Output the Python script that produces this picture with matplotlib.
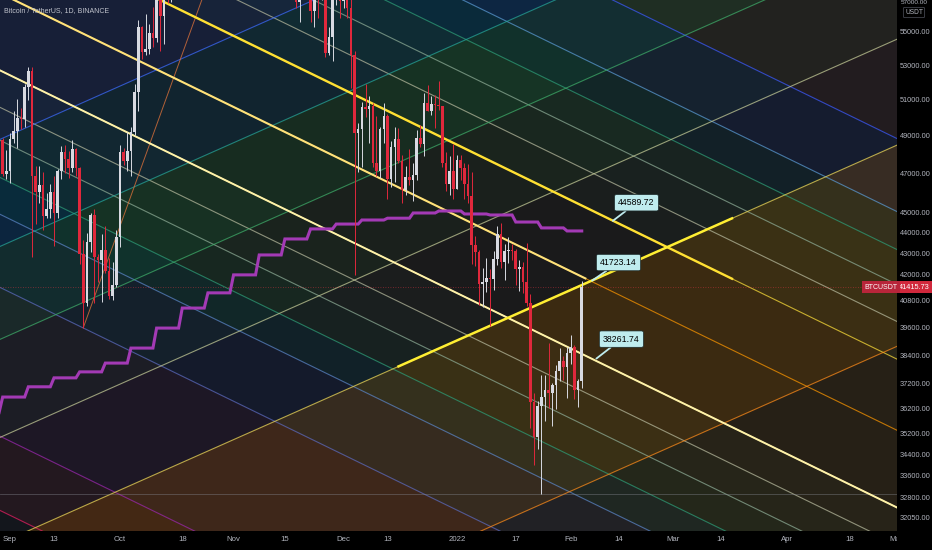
import numpy as np
import pandas as pd
import matplotlib
matplotlib.use("Agg")
import matplotlib.pyplot as plt
import matplotlib.dates as mdates
from matplotlib.patches import Rectangle

# ---------------- data ----------------
dates = pd.date_range("2021-08-28", "2022-02-04", freq="D")

opens = ([49050, 48930, 48800, 46990] +
         [47110, 48830, 49270, 49960, 49920, 51760, 52660, 46860, 46050, 46400, 44850, 45170, 46030, 44960, 47110,
          48140, 47760, 47300, 48310, 47260, 42970, 40690, 43560, 44880, 42810, 42700, 43180, 42170, 41030, 41520] +
         [43790, 48140, 47630, 48200, 49220, 51470, 55320, 53790, 53950, 54950, 54660, 57470, 56000, 57370, 57350,
          61670, 60880, 61530, 62010, 64280, 66000, 62210, 60690, 61290, 60850, 63080, 60330, 58460, 60590, 62250, 61860] +
         [61300, 61000, 63230, 62930, 61390, 60940, 61470, 63270, 67530, 66940, 64880, 64800, 64130, 64380, 65520,
          63600, 60050, 60360, 56890, 58050, 59700, 58680, 56280, 57540, 57140, 58960, 53720, 54720, 57270, 57800] +
         [56950, 57180, 56480, 53600, 49150, 49400, 50590, 50470, 50680, 47540, 47140, 49380, 50100, 46720, 48380,
          48860, 47630, 46130, 46830, 46680, 46910, 48900, 48590, 50820, 50400, 50780, 50700, 50640, 47540, 46460, 47120] +
         [46220, 47720, 47290, 46440, 45830, 43430, 43080, 41560, 41680, 41860, 41820, 42740, 43920, 42590, 43100,
          43180, 43110, 42250, 42380, 41660, 40680, 36450, 35070, 36280, 36650, 36960, 36810, 37160, 37720, 38170, 37920] +
         [38480, 38740, 36950, 37330])

highs = ([49300, 49630, 48900, 48240] +
         [49150, 50400, 51050, 50560, 51900, 52920, 52920, 47400, 47400, 47050, 45990, 46460, 46880, 47250, 48480,
          48500, 48170, 48800, 48370, 47330, 43640, 44000, 44980, 45200, 42970, 43950, 44350, 42790, 42600, 44130] +
         [48500, 48350, 49230, 49500, 51890, 55750, 55340, 56100, 55490, 56560, 57840, 57680, 57700, 58530, 62930,
          62350, 61720, 62700, 64490, 67000, 66640, 63730, 61750, 61500, 63710, 63290, 61500, 62500, 62960, 62330, 62410] +
         [62440, 64270, 63500, 63120, 62600, 61560, 63290, 67790, 68530, 69000, 65600, 65460, 65000, 65550, 66400,
          63620, 60820, 60980, 58370, 59850, 60050, 59260, 57850, 57800, 59400, 59200, 55280, 57440, 58870, 59180] +
         [59040, 57380, 57600, 53860, 49700, 50880, 51940, 51200, 50800, 50100, 49480, 50800, 50220, 48700, 49500,
          49440, 47990, 47380, 48300, 47540, 49330, 49580, 51380, 51860, 51200, 51280, 52090, 50680, 48140, 47900, 48550] +
         [47950, 47990, 47570, 47510, 47070, 43820, 43150, 42300, 42790, 42250, 43100, 44350, 44460, 43450, 43800,
          43480, 43200, 42690, 42580, 43500, 41100, 36840, 36500, 37550, 37550, 38920, 37230, 38000, 38720, 38360, 38750] +
         [39270, 38860, 37390, 41723.14])

lows = ([48370, 47760, 46870, 46700] +
        [46510, 48620, 48350, 49400, 49500, 50970, 42840, 44410, 45500, 44130, 44740, 44740, 43370, 44750, 46720,
         47040, 46750, 47050, 46850, 42500, 39600, 40570, 43090, 40680, 41650, 40750, 42100, 40890, 40830, 41410] +
        [43290, 47440, 47120, 46890, 49060, 50380, 53360, 53600, 53660, 54100, 54420, 53880, 54250, 56820, 56850,
         60150, 58960, 59850, 61320, 63480, 62000, 60000, 59700, 59510, 60650, 59820, 58000, 57820, 60170, 60720, 59700] +
        [59400, 60620, 60380, 60680, 60720, 60000, 61380, 63100, 66380, 62820, 64100, 62330, 63400, 63580, 63380,
         58580, 58370, 56480, 55600, 57400, 58500, 55630, 55300, 55840, 57020, 53500, 53610, 53250, 56690, 55880] +
        [56460, 55840, 51680, 42000, 47100, 47320, 50040, 48600, 47330, 46850, 46750, 48640, 45670, 46290, 46550,
         47530, 45460, 45900, 46400, 45560, 46640, 48420, 47920, 50440, 50150, 49420, 50450, 47320, 46100, 45900, 45680] +
        [46210, 46650, 45700, 45500, 42500, 42430, 40610, 40500, 41200, 39650, 41270, 42450, 42310, 41730, 42570,
         42690, 41540, 41250, 41140, 40550, 35440, 34010, 34600, 32920, 35700, 36230, 35510, 36160, 37300, 37350, 36630] +
        [38020, 36590, 36250, 37050])

closes = ([48930, 48800, 46990, 47110] +
          [48830, 49270, 49960, 49920, 51760, 52660, 46860, 46050, 46400, 44850, 45170, 46030, 44960, 47110, 48140,
           47760, 47300, 48310, 47260, 42970, 40690, 43560, 44880, 42810, 42700, 43180, 42170, 41030, 41520, 43790] +
          [48140, 47630, 48200, 49220, 51470, 55320, 53790, 53950, 54950, 54660, 57470, 56000, 57370, 57350, 61670,
           60880, 61530, 62010, 64280, 66000, 62210, 60690, 61290, 60850, 63080, 60330, 58460, 60590, 62250, 61860, 61300] +
          [61000, 63230, 62930, 61390, 60940, 61470, 63270, 67530, 66940, 64880, 64800, 64130, 64380, 65520, 63600,
           60050, 60360, 56890, 58050, 59700, 58680, 56280, 57540, 57140, 58960, 53720, 54720, 57270, 57800, 56950] +
          [57180, 56480, 53600, 49150, 49400, 50590, 50470, 50680, 47540, 47140, 49380, 50100, 46720, 48380, 48860,
           47630, 46130, 46830, 46680, 46910, 48900, 48590, 50820, 50400, 50780, 50700, 50640, 47540, 46460, 47120, 46220] +
          [47720, 47290, 46440, 45830, 43430, 43080, 41560, 41680, 41860, 41820, 42740, 43920, 42590, 43100, 43180,
           43110, 42250, 42380, 41660, 40680, 36450, 35070, 36280, 36650, 36960, 36810, 37160, 37720, 38170, 37920, 38480] +
          [38740, 36950, 37330, 41415.73])

# weekly stepped indicator (purple)
week_starts = pd.date_range("2021-08-23", "2022-01-31", freq="W-MON")
weekly_values = [36020, 36660, 37080, 37450, 37700, 38070, 38710, 39580, 40470, 41160, 41990, 42930,
                 43700, 44190, 44430, 44630, 44720, 44980, 45080, 44930, 44880, 44530, 44240, 44090]

# descending channel: two anchors of its centre line, level prices at reference date
ref_date = pd.Timestamp("2022-02-03 12:00")
desc_anchor_dates = [pd.Timestamp("2021-10-14 16:00"), pd.Timestamp("2022-02-03 12:00")]
desc_anchor_prices = [52300, 41890]
desc_levels = [74330, 68460, 58010, 53490, 51280, 49330, 47340, 45400, 41950,
               38500, 36950, 35620, 34180, 32810, 30250, 25640, 23610]
desc_line_colors = ["#f23645", "#9c27b0", "#3d5afe", "#5b9bd5", "#2e9e78", "#8fae98", "#b9bca0", "#ffe23b",
                    "#ff9800", "#fff0a0", "#b9bca0", "#8fae98", "#2e9e78", "#5b86c8", "#5c6bc0", "#9c27b0", "#e91e63"]
desc_fill_colors = ["#f23645", "#c0603a", "#2962ff", "#00acc1", "#4caf50", "#5fae45", "#8fb034", "#ff9800",
                    "#ff9800", "#b8c034", "#8bc34a", "#4caf50", "#00acc1", "#2962ff", "#9c27b0", "#f23645"]
desc_fill_alphas = [0.06, 0.09, 0.09, 0.07, 0.09, 0.08, 0.06, 0.03,
                    0.03, 0.05, 0.06, 0.08, 0.08, 0.07, 0.07, 0.08]

# ascending channel
asc_anchor_dates = [pd.Timestamp("2021-11-19 02:00"), pd.Timestamp("2022-02-03 12:00")]
asc_anchor_prices = [28890, 33170]
asc_levels = [64980, 57690, 52030, 46660, 41480, 33170]
asc_line_colors = ["#3d6bff", "#26a69a", "#3fae6a", "#c8cf9a", "#f0dc5a", "#ff8c1a"]
asc_fill_colors = ["#2962ff", "#0288d1", "#2aa35a", "#4f8a5a", "#6d6a70", "#ff9800", "#b07820"]
asc_fill_alphas = [0.15, 0.14, 0.17, 0.10, 0.07, 0.17, 0.12]

# steep trend line
steep_dates = [pd.Timestamp("2021-09-21"), pd.Timestamp("2021-10-17 10:00")]
steep_prices = [39600, 53320]

# price notes
note_dates = [pd.Timestamp("2022-02-12 12:00"), pd.Timestamp("2022-02-06 20:00"), pd.Timestamp("2022-02-08")]
note_prices = [44589.72, 41723.14, 38261.74]

last_price = 41415.73
hline_price = 32917

ytick_prices = [55000, 53000, 51000, 49000, 47000, 45000, 44000, 43000, 42000, 40800, 39600,
                38400, 37200, 36200, 35200, 34400, 33600, 32800, 32050]
xtick_dates = ["2021-09-01", "2021-09-13", "2021-10-01", "2021-10-18", "2021-11-01", "2021-11-15",
               "2021-12-01", "2021-12-13", "2022-01-01", "2022-01-17", "2022-02-01", "2022-02-14",
               "2022-03-01", "2022-03-14", "2022-04-01", "2022-04-18", "2022-05-01"]
xtick_labels = ["Sep", "13", "Oct", "18", "Nov", "15", "Dec", "13", "2022", "17", "Feb", "14",
                "Mar", "14", "Apr", "18", "May"]

UI_FONT = "Liberation Sans"

# ---------------- figure ----------------
W, H = 932, 550
fig = plt.figure(figsize=(W / 100, H / 100), dpi=100, facecolor="#000000")
ax = fig.add_axes([0, 19 / H, 897 / W, 531 / H])
ax.set_facecolor("#0d1016")
ax.set_yscale("log")

x_left = mdates.date2num(pd.Timestamp("2021-08-29 06:30"))
x_right = mdates.date2num(pd.Timestamp("2022-05-01 00:30"))
y_top, y_bot = 56990, 31590
ax.set_xlim(x_left, x_right)
ax.set_ylim(y_bot, y_top)

xref = mdates.date2num(ref_date)


def rate(adates, aprices):
    d = mdates.date2num(adates[1]) - mdates.date2num(adates[0])
    return np.log(aprices[1] / aprices[0]) / d


desc_rate = rate(desc_anchor_dates, desc_anchor_prices)
asc_rate = rate(asc_anchor_dates, asc_anchor_prices)
xs = np.array([x_left - 5, x_right + 5])


def level_line(level, r, xv):
    return level * np.exp(r * (np.asarray(xv) - xref))


# fills
for fam_levels, fam_rate, fam_fill, fam_alpha in [
        (desc_levels, desc_rate, desc_fill_colors, desc_fill_alphas),
        (asc_levels, asc_rate, asc_fill_colors, asc_fill_alphas)]:
    bounds = list(fam_levels)
    if len(fam_fill) == len(bounds) + 1:
        bounds = [None] + bounds + [None]
    for i, (col, a) in enumerate(zip(fam_fill, fam_alpha)):
        y1 = np.full(2, 1e7) if bounds[i] is None else level_line(bounds[i], fam_rate, xs)
        y2 = np.full(2, 1e3) if bounds[i + 1] is None else level_line(bounds[i + 1], fam_rate, xs)
        ax.fill_between(xs, y1, y2, color=col, alpha=a, lw=0, zorder=0.5)

# lines
for lv, col in zip(desc_levels, desc_line_colors):
    ax.plot(xs, level_line(lv, desc_rate, xs), color=col, lw=0.8, alpha=0.72, zorder=1)
for lv, col in zip(asc_levels, asc_line_colors):
    ax.plot(xs, level_line(lv, asc_rate, xs), color=col, lw=0.8, alpha=0.72, zorder=1)

# thicker highlighted segments
sx = np.array([mdates.date2num(pd.Timestamp("2021-10-10")), mdates.date2num(pd.Timestamp("2022-03-17"))])
ax.plot(sx, level_line(desc_levels[7], desc_rate, sx), color="#ffe033", lw=1.7, zorder=1.2)
sx = np.array([x_left - 5, mdates.date2num(pd.Timestamp("2022-02-05"))])
ax.plot(sx, level_line(desc_levels[8], desc_rate, sx), color="#ffe27a", lw=1.5, zorder=1.2)
ax.plot(xs, level_line(desc_levels[9], desc_rate, xs), color="#fff2a8", lw=1.4, zorder=1.2)
sx = np.array([mdates.date2num(pd.Timestamp("2021-12-16")), mdates.date2num(pd.Timestamp("2022-03-17"))])
ax.plot(sx, level_line(asc_levels[4], asc_rate, sx), color="#ffee33", lw=1.8, zorder=1.2)

# steep line
st_rate = rate(steep_dates, steep_prices)
sx0 = mdates.date2num(steep_dates[0])
sxs = np.array([sx0, sx0 + 40])
ax.plot(sxs, steep_prices[0] * np.exp(st_rate * (sxs - sx0)), color="#d9703a", lw=0.7, alpha=0.8, zorder=1)

# horizontal lines
ax.axhline(hline_price, color="#8a8d96", lw=0.6, alpha=0.45, zorder=1)
ax.axhline(last_price, color="#f23645", lw=0.6, ls=(0, (1, 2)), alpha=0.55, zorder=1)

# purple weekly stepped line
xd = mdates.date2num(dates)
wk = np.searchsorted(mdates.date2num(week_starts), xd, side="right") - 1
purple = np.array(weekly_values)[wk]
ax.plot(xd, purple, color="#a33ab5", lw=2.2, zorder=3, solid_joinstyle="miter")

# candles
o = np.array(opens, float); h = np.array(highs, float); l = np.array(lows, float); c = np.array(closes, float)
h = np.maximum(h, np.maximum(o, c)); l = np.minimum(l, np.minimum(o, c))
upc, dnc = "#d8dae2", "#e0283c"
cols = np.where(c >= o, upc, dnc)
ax.vlines(xd, l, h, colors=cols, lw=0.7, zorder=4)
bh = np.maximum(np.abs(c - o), o * 0.0009)
ax.bar(xd, bh, bottom=np.minimum(o, c), width=0.72, color=cols, lw=0, zorder=4.5)

# price notes
offsets = [(17, 13), (19, 13), (18, 14)]
for nd, npv, off in zip(note_dates, note_prices, offsets):
    ax.annotate(f"{npv:.2f}", xy=(mdates.date2num(nd), npv), xytext=off, textcoords="offset points",
                ha="center", va="center", fontsize=6.3, family=UI_FONT, color="#000000",
                bbox=dict(boxstyle="round,pad=0.42,rounding_size=0.2", fc="#bfecee", ec="#1b2a2a", lw=0.5),
                arrowprops=dict(arrowstyle="-", color="#bfecee", lw=1.3, shrinkA=0, shrinkB=0),
                zorder=6, annotation_clip=False)

# axes styling
for s in ax.spines.values():
    s.set_visible(False)
ax.yaxis.tick_right()
ax.set_yticks(ytick_prices)
ax.set_yticklabels([f"{p:.2f}" for p in ytick_prices])
ax.yaxis.set_minor_locator(matplotlib.ticker.NullLocator())
ax.yaxis.set_minor_formatter(matplotlib.ticker.NullFormatter())
ax.set_xticks(mdates.date2num(pd.to_datetime(xtick_dates)))
ax.set_xticklabels(xtick_labels)
ax.tick_params(axis="y", length=0, pad=2.0, labelsize=5.3, labelcolor="#b2b5be")
ax.tick_params(axis="x", length=0, pad=3.5, labelsize=5.6, labelcolor="#b2b5be")
for t in ax.get_xticklabels() + ax.get_yticklabels():
    t.set_family(UI_FONT)

# cover the part of the time scale under the price scale
fig.add_artist(Rectangle((897 / W, 0), 35 / W, 19 / H, transform=fig.transFigure,
                         color="#000000", zorder=10))

# title
fig.text(4 / W, 1 - 11 / H, "Bitcoin / TetherUS, 1D, BINANCE", color="#c0c3cc", fontsize=5.0,
         family=UI_FONT, va="center", ha="left", zorder=11)
# top of price scale
fig.text(914 / W, 1 - 3 / H, "57000.00", color="#b2b5be", fontsize=4.6, family=UI_FONT,
         ha="center", va="center", zorder=11)
fig.text(914 / W, 1 - 12.5 / H, "USDT", color="#b2b5be", fontsize=4.8, family=UI_FONT,
         ha="center", va="center", zorder=11,
         bbox=dict(boxstyle="round,pad=0.25,rounding_size=0.2", fc="#000000", ec="#50535e", lw=0.5))
# last price tags
ty = ax.transData.transform((x_left, last_price))[1] / H
fig.text(914.5 / W, ty, f"{last_price:.2f}", color="#ffffff", fontsize=5.3, family=UI_FONT,
         ha="center", va="center", zorder=12,
         bbox=dict(boxstyle="square,pad=0.33", fc="#d1283c", ec="none"))
fig.text(881 / W, ty, "BTCUSDT", color="#ffffff", fontsize=5.0, family=UI_FONT,
         ha="center", va="center", zorder=12,
         bbox=dict(boxstyle="square,pad=0.33", fc="#b8253a", ec="none"))

fig.savefig("out.png", dpi=100, facecolor=fig.get_facecolor())
